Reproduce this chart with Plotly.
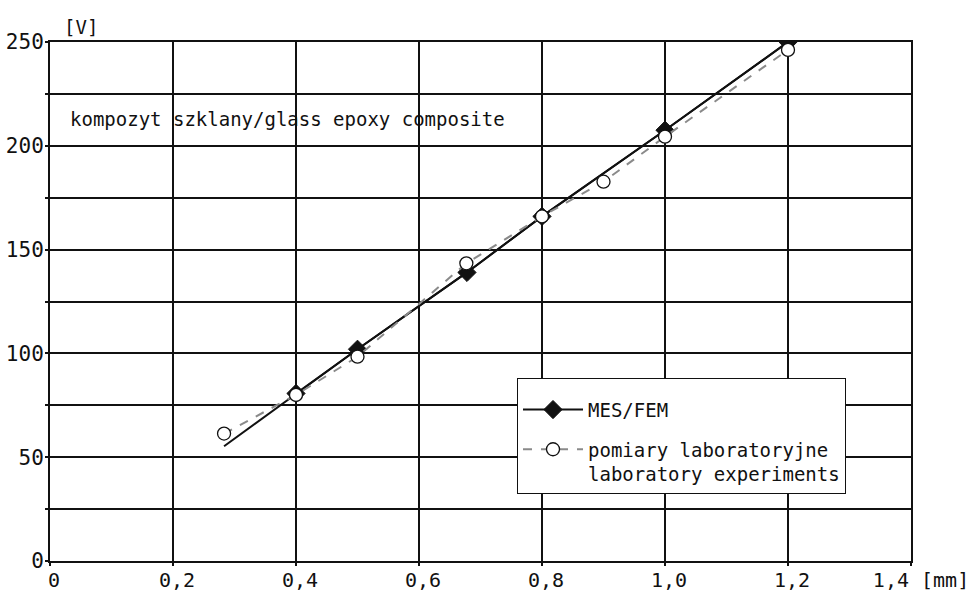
import plotly.graph_objects as go

# MES/FEM (numerical) series
fem_x = [0.283, 0.4, 0.5, 0.678, 0.8, 1.0, 1.2]
fem_y = [55.3, 80.7, 102.0, 139.0, 166.0, 207.5, 250.0]
fem_marker_x = fem_x[1:]
fem_marker_y = fem_y[1:]

# Laboratory experiments
lab_x = [0.283, 0.4, 0.5, 0.677, 0.8, 0.9, 1.0, 1.2]
lab_y = [61.4, 80.0, 98.4, 143.4, 166.0, 182.7, 204.4, 246.2]

NB = "\u00a0"
x_unit = "[mm]"
x_tickvals = [0, 0.2, 0.4, 0.6, 0.8, 1.0, 1.2, 1.4]
x_ticktext = ["0", "0,2", "0,4", "0,6", "0,8", "1,0", "1,2",
              NB + "1,4" + NB + x_unit]
y_tickvals = [0, 50, 100, 150, 200, 250]
y_ticktext = ["0", "50", "100", "150", "200", "250"]

FONT = "DejaVu Sans Mono, monospace"
INK = "#111111"

fig = go.Figure()

# FEM line segment before the first marker (no legend)
fig.add_trace(go.Scatter(
    x=fem_x, y=fem_y, mode="lines",
    line=dict(color=INK, width=2), showlegend=False, hoverinfo="skip"))

fig.add_trace(go.Scatter(
    x=fem_marker_x, y=fem_marker_y, mode="lines+markers", name="MES/FEM",
    legendgroup="fem",
    line=dict(color=INK, width=2),
    marker=dict(symbol="diamond", size=14, color=INK,
                line=dict(color=INK, width=1))))

fig.add_trace(go.Scatter(
    x=lab_x, y=lab_y, mode="lines+markers",
    name="pomiary laboratoryjne<br>laboratory experiments",
    legendgroup="lab",
    line=dict(color="#8a8a8a", width=2, dash="dash"),
    marker=dict(symbol="circle", size=13, color="white",
                line=dict(color=INK, width=1.3))))

fig.update_layout(
    width=971, height=592,
    margin=dict(l=50, r=60, t=42, b=31),
    paper_bgcolor="white", plot_bgcolor="white",
    font=dict(family=FONT, size=19, color=INK),
    showlegend=True,
    legend=dict(
        x=0.5424, y=0.3526, xanchor="left", yanchor="top",
        bgcolor="white", bordercolor=INK, borderwidth=1,
        font=dict(family=FONT, size=19, color=INK),
        itemwidth=60, valign="top",
        traceorder="grouped", tracegroupgap=12,
        title=dict(text=" ", font=dict(size=9)),
    ),
    xaxis=dict(
        range=[0, 1.4], tickvals=x_tickvals, ticktext=x_ticktext,
        tickangle=0,
        showgrid=True, gridcolor=INK, gridwidth=1.5,
        showline=True, linecolor=INK, linewidth=2, mirror=True,
        ticks="outside", ticklen=3, tickcolor=INK, tickwidth=1.5,
        ticklabelshift=4, ticklabelstandoff=-3,
        zeroline=False, fixedrange=True, automargin=False,
        tickfont=dict(family=FONT, size=20, color=INK),
    ),
    yaxis=dict(
        range=[0, 250], tickvals=y_tickvals, ticktext=y_ticktext,
        showgrid=True, gridcolor=INK, gridwidth=1.5,
        minor=dict(dtick=25, tick0=0, showgrid=True, gridcolor=INK,
                   gridwidth=1.5, ticks="outside", ticklen=3, tickcolor=INK),
        showline=True, linecolor=INK, linewidth=2, mirror=True,
        ticks="outside", ticklen=3, tickcolor=INK, tickwidth=1.5,
        ticklabelstandoff=-3,
        zeroline=False, fixedrange=True, automargin=False,
        tickfont=dict(family=FONT, size=21, color=INK),
    ),
    annotations=[
        dict(text="[V]", xref="paper", yref="paper", x=0.014, y=1.0,
             xanchor="left", yanchor="bottom", yshift=2, showarrow=False,
             font=dict(family=FONT, size=19, color=INK)),
        dict(text="kompozyt szklany/glass epoxy composite", xref="x", yref="y",
             x=0.030, y=213, xanchor="left", yanchor="middle", showarrow=False,
             font=dict(family=FONT, size=19, color=INK)),
    ],
)

fig.write_html("out.html",
               config={"displayModeBar": False},
               post_script="document.body.style.margin='0';"
                           "document.body.style.padding='0';"
                           "document.body.style.overflow='hidden';")
